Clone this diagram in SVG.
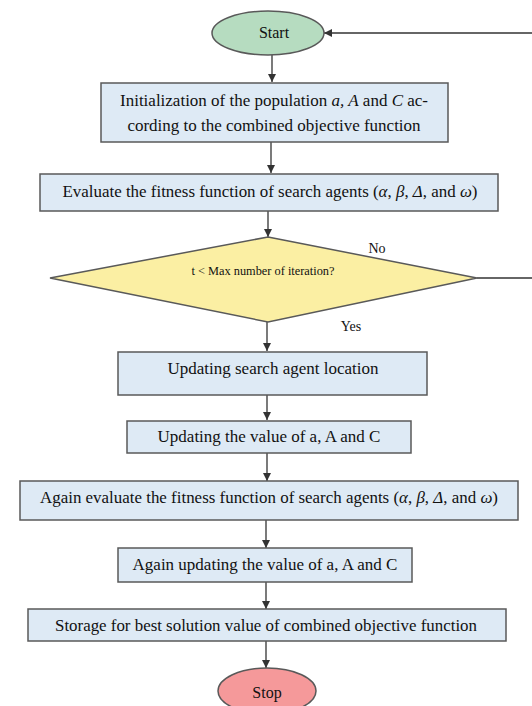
<svg xmlns="http://www.w3.org/2000/svg" width="532" height="706" viewBox="0 0 532 706">
<style>
.box{fill:#deeaf5;stroke:#595959;stroke-width:1.5}
.t{font-family:"Liberation Serif","Times New Roman",serif;font-size:17px;fill:#111;text-anchor:middle}
.s{font-size:12px}
.i{font-style:italic}
.c{stroke:#333;stroke-width:1.3;fill:none}
</style>
<defs>
<marker id="ah" markerWidth="10" markerHeight="10" refX="9" refY="5" orient="auto" markerUnits="userSpaceOnUse">
<path d="M1,1 L9,5 L1,9 Z" fill="#333"/>
</marker>
</defs>
<g id="connectors">
<line class="c" x1="272" y1="55" x2="272" y2="82" marker-end="url(#ah)"/>
<line class="c" x1="271" y1="142" x2="271" y2="173" marker-end="url(#ah)"/>
<line class="c" x1="268" y1="211" x2="268" y2="237" marker-end="url(#ah)"/>
<line class="c" x1="267" y1="322" x2="267" y2="351" marker-end="url(#ah)"/>
<line class="c" x1="267" y1="395" x2="267" y2="420" marker-end="url(#ah)"/>
<line class="c" x1="267" y1="453" x2="267" y2="481" marker-end="url(#ah)"/>
<line class="c" x1="266" y1="520" x2="266" y2="548" marker-end="url(#ah)"/>
<line class="c" x1="266" y1="582" x2="266" y2="609" marker-end="url(#ah)"/>
<line class="c" x1="266" y1="641" x2="266" y2="668" marker-end="url(#ah)"/>
<line class="c" x1="477" y1="278" x2="532" y2="278"/>
<line class="c" x1="532" y1="33" x2="324" y2="33" marker-end="url(#ah)"/>
<text class="t" x="377" y="253" style="font-size:14px">No</text>
<text class="t" x="351" y="331" style="font-size:14px">Yes</text>
</g>
<g id="start">
<ellipse cx="268" cy="33" rx="56" ry="22" fill="#b6dcc0" stroke="#595959" stroke-width="1.5"/>
<text class="t" x="274" y="38" style="font-size:16px">Start</text>
</g>
<g id="init">
<rect class="box" x="101" y="83" width="347" height="59"/>
<text class="t" x="274" y="106">Initialization of the population <tspan class="i">a, A</tspan> and <tspan class="i">C</tspan> ac-</text>
<text class="t" x="274" y="131">cording to the combined objective function</text>
</g>
<g id="evaluate">
<rect class="box" x="40" y="174" width="458" height="37"/>
<text class="t" x="270" y="197" textLength="415" lengthAdjust="spacingAndGlyphs">Evaluate the fitness function of search agents (<tspan class="i">α</tspan>, <tspan class="i">β</tspan>, <tspan class="i">Δ</tspan>, and <tspan class="i">ω</tspan>)</text>
</g>
<g id="decision">
<polygon points="268,237 477,278 268,322 50,278" fill="#fbefa3" stroke="#595959" stroke-width="1.5"/>
<text class="t s" x="263" y="275" textLength="143" lengthAdjust="spacingAndGlyphs">t &lt; Max number of iteration?</text>
</g>
<g id="update-location">
<rect class="box" x="118" y="352" width="309" height="43"/>
<text class="t" x="273" y="374">Updating search agent location</text>
</g>
<g id="update-values">
<rect class="box" x="127" y="421" width="284" height="32"/>
<text class="t" x="269" y="442">Updating the value of a, A and C</text>
</g>
<g id="again-evaluate">
<rect class="box" x="20" y="481" width="498" height="39"/>
<text class="t" x="269" y="503" textLength="458" lengthAdjust="spacingAndGlyphs">Again evaluate the fitness function of search agents (<tspan class="i">α</tspan>, <tspan class="i">β</tspan>, <tspan class="i">Δ</tspan>, and <tspan class="i">ω</tspan>)</text>
</g>
<g id="again-update">
<rect class="box" x="118" y="548" width="294" height="34"/>
<text class="t" x="265" y="570">Again updating the value of a, A and C</text>
</g>
<g id="storage">
<rect class="box" x="28" y="609" width="478" height="32"/>
<text class="t" x="266" y="631" textLength="422" lengthAdjust="spacingAndGlyphs">Storage for best solution value of combined objective function</text>
</g>
<g id="stop">
<ellipse cx="267" cy="691" rx="49" ry="23" fill="#f5999a" stroke="#595959" stroke-width="1.5"/>
<text class="t" x="267" y="698" style="font-size:16px">Stop</text>
</g>
</svg>
